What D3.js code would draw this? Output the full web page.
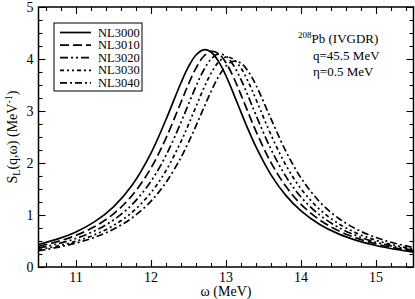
<!DOCTYPE html>
<html>
<head>
<meta charset="utf-8">
<script src="https://cdn.jsdelivr.net/npm/d3@7"></script>
<style>
  body { margin: 0; background: #fff; }
</style>
</head>
<body>
<div id="graph"></div>
<script>
'use strict';

// energy grid (MeV), shared by all curves
const omega = [10.5, 10.75, 11, 11.25, 11.5, 11.75, 12, 12.2, 12.4, 12.5, 12.6, 12.7, 12.8, 12.9,
  13, 13.1, 13.2, 13.3, 13.4, 13.6, 13.8, 14, 14.25, 14.5, 14.75, 15, 15.25, 15.5];

// S_L(q, omega)
const nl3000 = [0.433, 0.535, 0.675, 0.872, 1.158, 1.577, 2.190, 2.836, 3.543, 3.853, 4.077, 4.177, 4.134, 3.955,
  3.675, 3.335, 2.977, 2.629, 2.308, 1.772, 1.372, 1.079, 0.819, 0.637, 0.508, 0.413, 0.342, 0.287];
const nl3010 = [0.397, 0.487, 0.609, 0.779, 1.023, 1.379, 1.904, 2.479, 3.169, 3.518, 3.825, 4.048, 4.147, 4.104,
  3.927, 3.648, 3.311, 2.955, 2.610, 2.007, 1.546, 1.205, 0.905, 0.697, 0.551, 0.444, 0.365, 0.305];
const nl3020 = [0.364, 0.443, 0.549, 0.696, 0.904, 1.205, 1.650, 2.147, 2.781, 3.131, 3.476, 3.779, 3.999, 4.097,
  4.054, 3.880, 3.604, 3.271, 2.920, 2.264, 1.738, 1.346, 0.999, 0.762, 0.596, 0.477, 0.390, 0.323];
const nl3030 = [0.333, 0.402, 0.495, 0.622, 0.799, 1.055, 1.430, 1.853, 2.413, 2.740, 3.085, 3.425, 3.724, 3.940,
  4.037, 3.995, 3.823, 3.551, 3.223, 2.541, 1.954, 1.505, 1.106, 0.834, 0.646, 0.513, 0.415, 0.343];
const nl3040 = [0.313, 0.376, 0.460, 0.572, 0.727, 0.947, 1.267, 1.627, 2.108, 2.398, 2.715, 3.049, 3.374, 3.660,
  3.866, 3.957, 3.918, 3.754, 3.496, 2.848, 2.220, 1.712, 1.251, 0.937, 0.720, 0.566, 0.456, 0.374];

const seriesNames = ["NL3000", "NL3010", "NL3020", "NL3030", "NL3040"];
const seriesValues = [nl3000, nl3010, nl3020, nl3030, nl3040];

const xTicks = [11, 12, 13, 14, 15];
const yTicks = [0, 1, 2, 3, 4, 5];

(function() {
  const dashes = [null, "9,4", "8,3,2,3,2,3", "4,3,2,3,2,3", "7,3,2,3"];
  const serif = '"Liberation Serif", "Times New Roman", Times, "DejaVu Serif", serif';

  const W = 415, H = 299;
  const mLeft = 38.5, mRight = 413.5, mTop = 7, mBottom = 267;

  const svg = d3.select('#graph').append('svg')
    .attr('width', W)
    .attr('height', H)
    .style('display', 'block')
    .attr('font-family', serif);

  const x = d3.scaleLinear().domain([10.5, 15.5]).range([mLeft, mRight]);
  const y = d3.scaleLinear().domain([0, 5]).range([mBottom, mTop]);

  // clip the curves to the frame
  svg.append('clipPath').attr('id', 'clip')
    .append('rect')
    .attr('x', mLeft).attr('y', mTop)
    .attr('width', mRight - mLeft).attr('height', mBottom - mTop);

  const line = d3.line()
    .x((d) => x(d[0]))
    .y((d) => y(d[1]))
    .curve(d3.curveCatmullRom.alpha(0.5));

  const plot = svg.append('g').attr('clip-path', 'url(#clip)');
  seriesValues.forEach((vals, i) => {
    plot.append('path')
      .datum(omega.map((w, j) => [w, vals[j]]))
      .attr('d', line)
      .attr('fill', 'none')
      .attr('stroke', '#000')
      .attr('stroke-width', 1.7)
      .attr('stroke-dasharray', dashes[i]);
  });

  // axes, ticks pointing inward on all four sides
  const notMajor = (v) => Math.abs(v - Math.round(v)) > 0.01;
  const xMinor = d3.range(10.6, 15.5, 0.2).filter(notMajor);
  const yMinor = d3.range(0.25, 5, 0.25).filter(notMajor);

  function tickAxis(makeAxis, scale, major, minor) {
    return function(g) {
      g.call(makeAxis(scale).tickValues(major).tickSize(-7).tickFormat(''));
      g.append('g').call(makeAxis(scale).tickValues(minor).tickSize(-4).tickFormat(''));
      g.selectAll('.domain').remove();
      g.selectAll('text').remove();
      g.selectAll('line').attr('stroke', '#000').attr('stroke-width', 1.1);
    };
  }

  svg.append('g').attr('transform', `translate(0,${mBottom})`)
    .call(tickAxis(d3.axisBottom, x, xTicks, xMinor));
  svg.append('g').attr('transform', `translate(0,${mTop})`)
    .call(tickAxis(d3.axisTop, x, xTicks, xMinor));
  svg.append('g').attr('transform', `translate(${mLeft},0)`)
    .call(tickAxis(d3.axisLeft, y, yTicks, yMinor));
  svg.append('g').attr('transform', `translate(${mRight},0)`)
    .call(tickAxis(d3.axisRight, y, yTicks, yMinor));

  // frame
  svg.append('rect')
    .attr('x', mLeft).attr('y', mTop)
    .attr('width', mRight - mLeft).attr('height', mBottom - mTop)
    .attr('fill', 'none')
    .attr('stroke', '#000')
    .attr('stroke-width', 1.5);

  // tick labels
  svg.selectAll('.xlab')
    .data(xTicks)
    .enter()
    .append('text')
      .attr('x', (d) => x(d))
      .attr('y', mBottom + 15)
      .attr('text-anchor', 'middle')
      .style('font-size', '14px')
      .text((d) => d);

  svg.selectAll('.ylab')
    .data(yTicks)
    .enter()
    .append('text')
      .attr('x', mLeft - 5)
      .attr('y', (d) => y(d) + 5)
      .attr('text-anchor', 'end')
      .style('font-size', '14px')
      .text((d) => d);

  // axis titles
  svg.append('text')
    .attr('x', 226)
    .attr('y', 296)
    .attr('text-anchor', 'middle')
    .style('font-size', '14px')
    .text('ω (MeV)');

  const yTitle = svg.append('text')
    .attr('transform', 'translate(17,137)rotate(-90)')
    .attr('text-anchor', 'middle')
    .style('font-size', '14px');
  yTitle.append('tspan').text('S');
  yTitle.append('tspan').attr('dy', 3).style('font-size', '10px').text('L');
  yTitle.append('tspan').attr('dy', -3).text('(q,ω) (MeV');
  yTitle.append('tspan').attr('dy', -5).style('font-size', '10px').text('-1');
  yTitle.append('tspan').attr('dy', 5).text(')');

  // legend
  const lx = 54, ly = 23, lw = 88, lh = 68, rowH = 12.6;
  svg.append('rect')
    .attr('x', lx).attr('y', ly)
    .attr('width', lw).attr('height', lh)
    .attr('fill', '#fff')
    .attr('stroke', '#000')
    .attr('stroke-width', 1);

  seriesNames.forEach((name, i) => {
    const yy = ly + 9.5 + rowH * i;
    svg.append('line')
      .attr('x1', lx + 6).attr('x2', lx + 37)
      .attr('y1', yy).attr('y2', yy)
      .attr('stroke', '#000')
      .attr('stroke-width', 1.7)
      .attr('stroke-dasharray', dashes[i]);
    svg.append('text')
      .attr('x', lx + 44)
      .attr('y', yy + 4)
      .style('font-size', '12.5px')
      .text(name);
  });

  // annotation
  const ann = svg.append('text')
    .attr('x', 298)
    .attr('y', 43)
    .style('font-size', '13px');
  ann.append('tspan').attr('dy', -5).style('font-size', '9px').text('208');
  ann.append('tspan').attr('dy', 5).text('Pb (IVGDR)');

  svg.append('text')
    .attr('x', 313).attr('y', 60)
    .style('font-size', '13px')
    .text('q=45.5 MeV');

  svg.append('text')
    .attr('x', 313).attr('y', 76)
    .style('font-size', '13px')
    .text('η=0.5 MeV');
})();
</script>
</body>
</html>
